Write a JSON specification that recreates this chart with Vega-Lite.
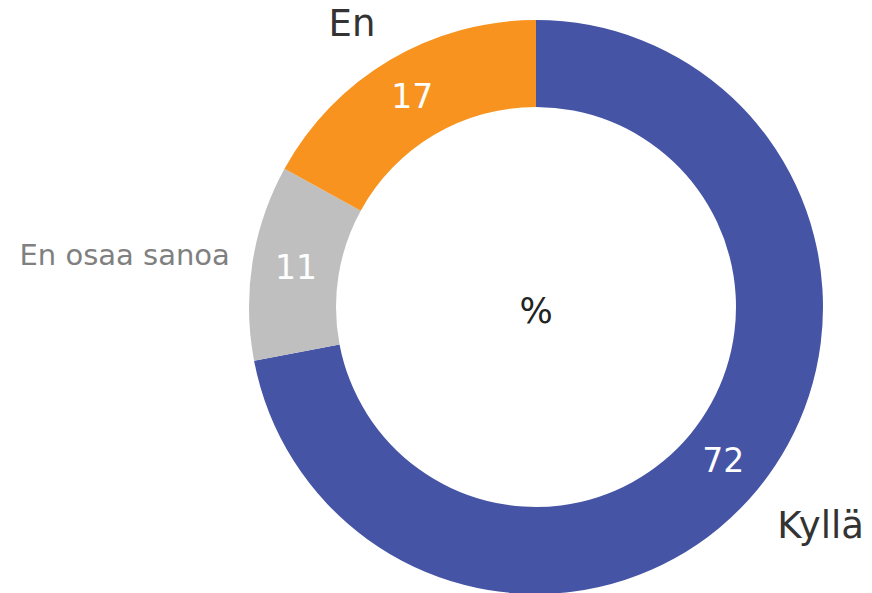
{
  "$schema": "https://vega.github.io/schema/vega-lite/v6.json",
  "width": 672,
  "height": 572,
  "autosize": {"type": "none"},
  "padding": {"left": 200, "top": 21, "right": 0, "bottom": 0},
  "background": "white",
  "config": {"view": {"stroke": null}, "font": "DejaVu Sans"},
  "data": {
    "values": [
      {"cat": "Kyllä", "value": 72, "rank": 1},
      {"cat": "En osaa sanoa", "value": 11, "rank": 2},
      {"cat": "En", "value": 17, "rank": 3}
    ]
  },
  "encoding": {
    "theta": {"field": "value", "type": "quantitative", "stack": true},
    "order": {"field": "rank", "type": "quantitative"}
  },
  "layer": [
    {
      "mark": {"type": "arc", "innerRadius": 200, "outerRadius": 287, "stroke": null},
      "encoding": {
        "color": {
          "field": "cat",
          "type": "nominal",
          "scale": {"domain": ["Kyllä", "En osaa sanoa", "En"], "range": ["#4554A5", "#BFBFBF", "#F7931E"]},
          "legend": null
        }
      }
    },
    {
      "mark": {"type": "text", "radius": 243, "fontSize": 33, "color": "white", "align": "center", "baseline": "middle"},
      "encoding": {"text": {"field": "value", "type": "quantitative"}}
    },
    {
      "mark": {"type": "text", "radius": 355, "dx": 11, "dy": -6, "fontSize": 37, "color": "#333333", "align": "center", "baseline": "middle"},
      "encoding": {"text": {"condition": {"test": "datum.cat === 'Kyllä'", "field": "cat"}, "value": ""}}
    },
    {
      "mark": {"type": "text", "radius": 330, "dx": -16, "dy": 2, "fontSize": 37, "color": "#333333", "align": "center", "baseline": "middle"},
      "encoding": {"text": {"condition": {"test": "datum.cat === 'En'", "field": "cat"}, "value": ""}}
    },
    {
      "mark": {"type": "text", "radius": 310, "dy": -3, "fontSize": 29, "color": "#808080", "align": "right", "baseline": "middle"},
      "encoding": {"text": {"condition": {"test": "datum.cat === 'En osaa sanoa'", "field": "cat"}, "value": ""}}
    },
    {
      "data": {"values": [{"label": "%"}]},
      "mark": {"type": "text", "fontSize": 35, "color": "#222222", "align": "center", "baseline": "middle", "dy": 5},
      "encoding": {"text": {"field": "label", "type": "nominal"}, "theta": null, "order": null}
    }
  ]
}
